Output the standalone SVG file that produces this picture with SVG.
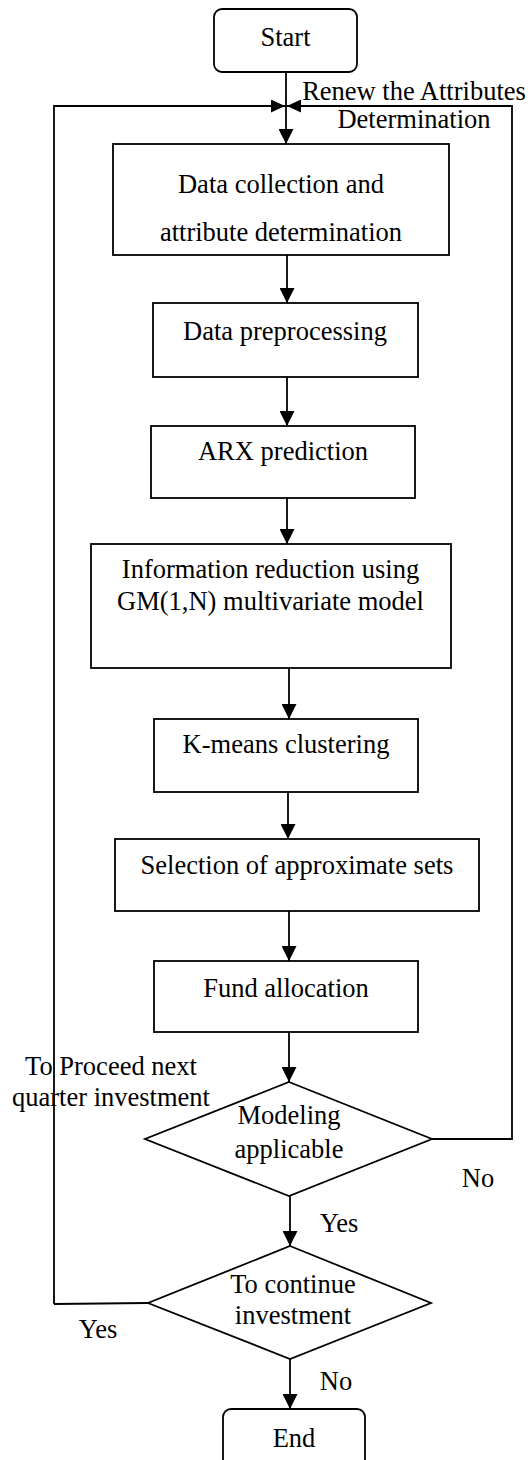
<svg xmlns="http://www.w3.org/2000/svg" width="531" height="1460" viewBox="0 0 531 1460">
<defs>
<style>
.box{fill:#fff;stroke:#000;stroke-width:1.8}
.t{font-family:"Liberation Serif","Times New Roman",serif;font-size:26.5px;fill:#000;text-anchor:middle}
.c{fill:none;stroke:#000;stroke-width:1.8}
</style>
<marker id="ah" markerUnits="userSpaceOnUse" markerWidth="15" markerHeight="15" refX="15" refY="7.5" orient="auto">
<path d="M0,0 L15,7.5 L0,15 z" fill="#000"/>
</marker>
<marker id="ahs" markerUnits="userSpaceOnUse" markerWidth="14" markerHeight="13" refX="14" refY="6.5" orient="auto">
<path d="M0,0 L14,6.5 L0,13 z" fill="#000"/>
</marker>
</defs>
<rect width="531" height="1460" fill="#fff"/>
<g id="connectors">
<line class="c" x1="286" y1="72" x2="286" y2="144" marker-end="url(#ah)"/>
<polyline class="c" points="54,1304 54,106 285,106" marker-end="url(#ahs)"/>
<polyline class="c" points="432,1139 512,1139 512,106 287,106" marker-end="url(#ahs)"/>
<line class="c" x1="287" y1="255" x2="287" y2="303" marker-end="url(#ah)"/>
<line class="c" x1="287" y1="377" x2="287" y2="426" marker-end="url(#ah)"/>
<line class="c" x1="287" y1="498" x2="287" y2="544" marker-end="url(#ah)"/>
<line class="c" x1="289" y1="668" x2="289" y2="719" marker-end="url(#ah)"/>
<line class="c" x1="288" y1="792" x2="288" y2="839" marker-end="url(#ah)"/>
<line class="c" x1="289" y1="911" x2="289" y2="961" marker-end="url(#ah)"/>
<line class="c" x1="289" y1="1032" x2="289" y2="1082" marker-end="url(#ah)"/>
<line class="c" x1="290" y1="1196" x2="290" y2="1246" marker-end="url(#ah)"/>
<line class="c" x1="290" y1="1359" x2="290" y2="1409" marker-end="url(#ah)"/>
<polyline class="c" points="148,1303 54,1304"/>
<text class="t" x="414" y="100">Renew the Attributes</text>
<text class="t" x="414" y="128">Determination</text>
<text class="t" x="111" y="1075">To Proceed next</text>
<text class="t" x="111" y="1106">quarter investment</text>
<text class="t" x="478" y="1187">No</text>
<text class="t" x="339" y="1232">Yes</text>
<text class="t" x="98" y="1338">Yes</text>
<text class="t" x="336" y="1390">No</text>
</g>
<g id="start">
<rect class="box" x="214" y="9" width="143" height="63" rx="8"/>
<text class="t" x="285.5" y="46">Start</text>
</g>
<g id="collection">
<rect class="box" x="113" y="144" width="336" height="111"/>
<text class="t" x="281" y="193">Data collection and</text>
<text class="t" x="281" y="241">attribute determination</text>
</g>
<g id="preprocessing">
<rect class="box" x="153" y="303" width="265" height="74"/>
<text class="t" x="285" y="340">Data preprocessing</text>
</g>
<g id="arx">
<rect class="box" x="151" y="426" width="264" height="72"/>
<text class="t" x="283" y="460">ARX prediction</text>
</g>
<g id="reduction">
<rect class="box" x="91" y="544" width="360" height="124"/>
<text class="t" x="270.5" y="578">Information reduction using</text>
<text class="t" x="270.5" y="610">GM(1,N) multivariate model</text>
</g>
<g id="kmeans">
<rect class="box" x="154" y="719" width="264" height="73"/>
<text class="t" x="286" y="753">K-means clustering</text>
</g>
<g id="selection">
<rect class="box" x="115" y="839" width="364" height="72"/>
<text class="t" x="297" y="874">Selection of approximate sets</text>
</g>
<g id="fund">
<rect class="box" x="154" y="961" width="264" height="71"/>
<text class="t" x="286" y="997">Fund allocation</text>
</g>
<g id="modeling">
<polygon class="box" points="289,1082 432,1139 289,1196 145,1139"/>
<text class="t" x="289" y="1124">Modeling</text>
<text class="t" x="289" y="1158">applicable</text>
</g>
<g id="continue">
<polygon class="box" points="290,1246 431,1303 290,1359 148,1303"/>
<text class="t" x="293" y="1293">To continue</text>
<text class="t" x="293" y="1324">investment</text>
</g>
<g id="end">
<rect class="box" x="223" y="1409" width="142" height="63" rx="8"/>
<text class="t" x="294" y="1447">End</text>
</g>
</svg>
